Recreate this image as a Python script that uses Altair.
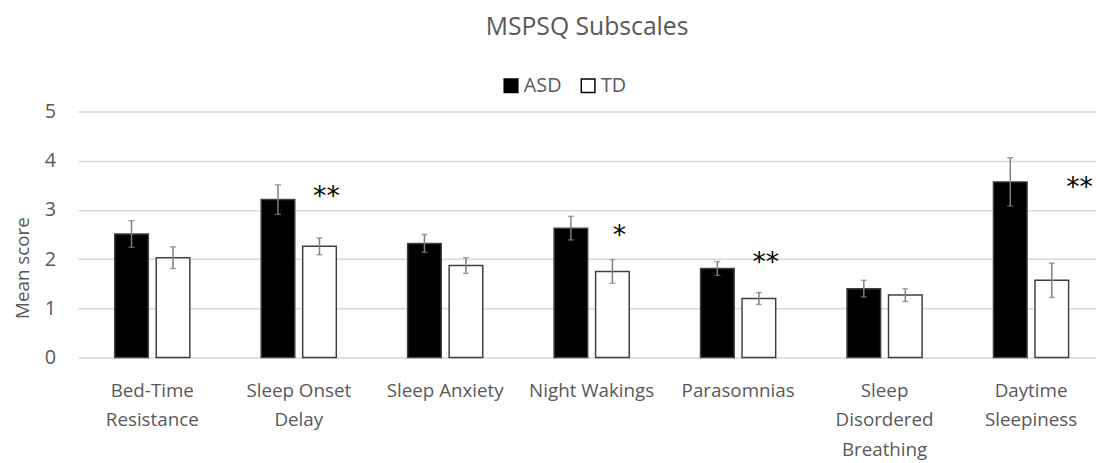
import altair as alt
import pandas as pd

categories = ["Bed-Time|Resistance", "Sleep Onset|Delay", "Sleep Anxiety", "Night Wakings",
              "Parasomnias", "Sleep|Disordered|Breathing", "Daytime|Sleepiness"]
groups = ["ASD", "TD"]
asd_mean = [2.51, 3.21, 2.32, 2.63, 1.81, 1.40, 3.57]
asd_err = [0.27, 0.30, 0.18, 0.24, 0.14, 0.17, 0.49]
td_mean = [2.03, 2.26, 1.87, 1.75, 1.20, 1.27, 1.57]
td_err = [0.22, 0.17, 0.16, 0.24, 0.12, 0.13, 0.35]
sig_labels = ["", "**", "", "*", "**", "", "**"]
sig_y = [0, 3.40, 0, 2.61, 2.06, 0, 3.59]

rows = []
for i, c in enumerate(categories):
    rows.append({"cat": c, "group": "ASD", "mean": asd_mean[i], "lo": asd_mean[i] - asd_err[i], "hi": asd_mean[i] + asd_err[i]})
    rows.append({"cat": c, "group": "TD", "mean": td_mean[i], "lo": td_mean[i] - td_err[i], "hi": td_mean[i] + td_err[i]})
df = pd.DataFrame(rows)
sig = pd.DataFrame({"cat": categories, "group": "TD", "label": sig_labels, "y": sig_y})
sig = sig[sig["label"] != ""]
last_cat = categories[-1]

FONT = "Open Sans"
GREY = "#595959"

x = alt.X("cat:N", sort=categories, title=None,
          scale=alt.Scale(paddingInner=0.487, paddingOuter=0.2185, align=0.571),
          axis=alt.Axis(labelExpr="split(datum.label, '|')", labelAngle=0, labelFontSize=19,
                        labelColor=GREY, labelFont=FONT, labelLineHeight=30, labelPadding=24,
                        ticks=False, domain=False, labelBaseline="top"))
xoff = alt.XOffset("group:N", sort=groups, scale=alt.Scale(paddingInner=0.19, paddingOuter=0))
yscale = alt.Scale(domain=[0, 5])

bars = alt.Chart(df).mark_bar(stroke="#404040", strokeWidth=1.5).encode(
    x=x, xOffset=xoff,
    y=alt.Y("mean:Q", scale=yscale, title="Mean score",
            axis=alt.Axis(values=[0, 1, 2, 3, 4, 5], grid=True, gridColor="#d9d9d9", gridWidth=1.5,
                          domain=False, ticks=False, labelFontSize=20, labelColor=GREY,
                          labelFont=FONT, labelPadding=23, titleFontSize=19, titleColor=GREY,
                          titleFont=FONT, titleFontWeight="normal", titlePadding=12, titleY=158)),
    fill=alt.Fill("group:N", sort=groups,
                  scale=alt.Scale(domain=groups, range=["#000000", "#ffffff"]),
                  legend=alt.Legend(title=None, orient="none", direction="horizontal",
                                    legendX=428, legendY=-36, symbolType="square", symbolSize=190,
                                    symbolStrokeColor="#000000", symbolStrokeWidth=1.5,
                                    labelFontSize=20, labelColor=GREY, labelFont=FONT,
                                    columnPadding=16, labelOffset=3)),
)

err = alt.Chart(df).mark_rule(color="#7f7f7f", strokeWidth=1.5).encode(
    x=x, xOffset=xoff, y=alt.Y("lo:Q", scale=yscale), y2="hi:Q")
cap_lo = alt.Chart(df).mark_tick(color="#7f7f7f", thickness=1.5, size=6).encode(
    x=x, xOffset=xoff, y=alt.Y("lo:Q", scale=yscale))
cap_hi = alt.Chart(df).mark_tick(color="#7f7f7f", thickness=1.5, size=6).encode(
    x=x, xOffset=xoff, y=alt.Y("hi:Q", scale=yscale))

star_enc = dict(x=x, xOffset=xoff, y=alt.Y("y:Q", scale=yscale), text="label:N")
stars = alt.Chart(sig).mark_text(fontSize=27, font="DejaVu Sans", color="#000000",
                                 baseline="middle", dx=7, dy=7).encode(**star_enc).transform_filter(
    alt.datum.cat != last_cat)
stars_last = alt.Chart(sig).mark_text(fontSize=27, font="DejaVu Sans", color="#000000",
                                      baseline="middle", dx=28, dy=7).encode(**star_enc).transform_filter(
    alt.datum.cat == last_cat)

chart = alt.layer(bars, err, cap_lo, cap_hi, stars, stars_last).properties(
    width=1030, height=249,
    title=alt.TitleParams("MSPSQ Subscales", fontSize=25, font=FONT, color=GREY,
                          fontWeight="normal", anchor="middle", offset=36),
).configure_view(stroke=None)

chart.save("out.html", embed_options={"renderer": "svg", "actions": False})
